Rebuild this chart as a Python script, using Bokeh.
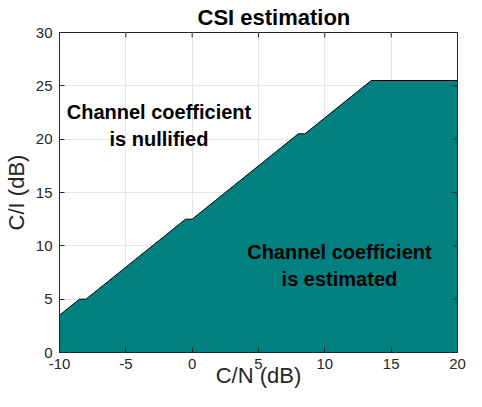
from bokeh.plotting import figure
from bokeh.models import Label, Range1d, FixedTicker
from bokeh.embed import file_html
from bokeh.resources import INLINE

# Boundary between the two regions (C/N in dB, C/I in dB)
cn = [-10, -8.5, -8, -0.5, 0, 8, 8.5, 13.5, 20]
ci = [3.5, 5, 5, 12.5, 12.5, 20.5, 20.5, 25.5, 25.5]
baseline = [0] * len(cn)

x_ticks = [-10, -5, 0, 5, 10, 15, 20]
y_ticks = [0, 5, 10, 15, 20, 25, 30]
x_min, x_max = -10, 20
y_min, y_max = 0, 30

FONT = "Liberation Sans"
AX = "#262626"

p = figure(width=466, height=391,
           x_range=Range1d(x_min, x_max), y_range=Range1d(y_min, y_max),
           output_backend="svg", toolbar_location=None,
           min_border_left=59, min_border_right=9,
           min_border_top=32, min_border_bottom=39)

p.title.text = "CSI estimation"
p.title.align = "left"
p.title.offset = 138
p.title.text_font = FONT
p.title.text_font_size = "22px"
p.title.text_font_style = "bold"
p.title.text_color = "black"
p.title.standoff = 5
p.title.text_line_height = 1.0

p.outline_line_color = AX
p.outline_line_width = 1
p.background_fill_color = "white"

for ax in (p.xaxis[0], p.yaxis[0]):
    ax.major_tick_in = 5
    ax.major_tick_out = 0
    ax.minor_tick_line_color = None
    ax.axis_line_color = AX
    ax.major_tick_line_color = AX
    ax.major_label_text_font = FONT
    ax.major_label_text_font_size = "15px"
    ax.major_label_text_color = AX
    ax.axis_label_text_font = FONT
    ax.axis_label_text_font_size = "22px"
    ax.axis_label_text_font_style = "normal"
    ax.axis_label_text_color = AX

p.xaxis[0].ticker = FixedTicker(ticks=x_ticks)
p.yaxis[0].ticker = FixedTicker(ticks=y_ticks)
p.xaxis[0].major_label_overrides = {t: str(t) for t in x_ticks}
p.xaxis[0].axis_label = "C/N (dB)"
p.yaxis[0].axis_label = "C/I (dB)"
p.xaxis[0].major_label_standoff = 6
p.xaxis[0].axis_label_standoff = -9
p.yaxis[0].major_label_standoff = 7
p.yaxis[0].axis_label_standoff = 4

p.xgrid.ticker = FixedTicker(ticks=x_ticks)
p.ygrid.ticker = FixedTicker(ticks=y_ticks)
p.grid.grid_line_color = "#e6e6e6"
p.grid.grid_line_width = 1

p.varea(x=cn, y1=baseline, y2=ci, fill_color="#008080")
p.line(x=cn, y=ci, line_color="black", line_width=1)

# inward ticks on the top and right edges of the box
tick_dy = 0.47
tick_dx = 0.38
p.segment(x0=x_ticks, y0=[y_max] * len(x_ticks), x1=x_ticks,
          y1=[y_max - tick_dy] * len(x_ticks), line_color=AX, line_width=1)
p.segment(x0=[x_max] * len(y_ticks), y0=y_ticks, x1=[x_max - tick_dx] * len(y_ticks),
          y1=y_ticks, line_color=AX, line_width=1)

lbl1 = Label(x=-2.5, y=21.3, text="Channel coefficient\nis nullified",
             text_align="center", text_baseline="middle",
             text_font=FONT, text_font_size="20px", text_font_style="bold",
             text_color="black", text_line_height=1.22)
lbl2 = Label(x=11.1, y=8.15, text="Channel coefficient\nis estimated",
             text_align="center", text_baseline="middle",
             text_font=FONT, text_font_size="20px", text_font_style="bold",
             text_color="black", text_line_height=1.22)
p.add_layout(lbl1)
p.add_layout(lbl2)

open("out.html", "w").write(file_html(p, INLINE))
